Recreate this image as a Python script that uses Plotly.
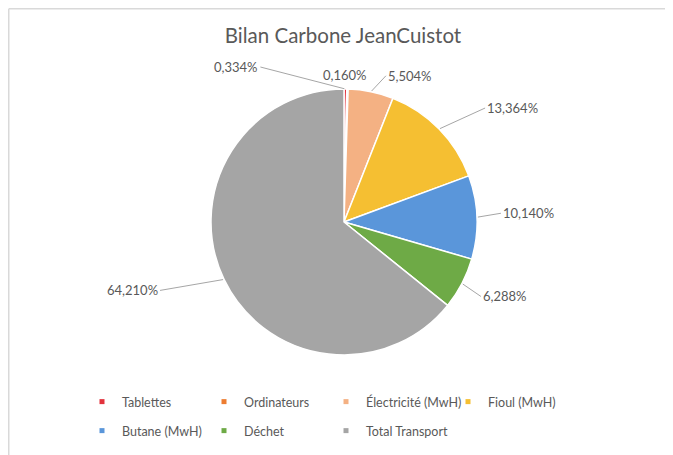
import math
import plotly.graph_objects as go

# ---------------- data ----------------
categories = ["Tablettes", "Ordinateurs", "Électricité (MwH)", "Fioul (MwH)",
              "Butane (MwH)", "Déchet", "Total Transport"]
shares = [0.334, 0.160, 5.504, 13.364, 10.140, 6.288, 64.210]
title_text = "Bilan Carbone JeanCuistot"

# ---------------- style ----------------
colors = ["#E2323C", "#ED7D31", "#F4B183", "#F5BF32", "#5A96DA", "#6EAA46", "#A5A5A5"]
text_color = "#595959"
line_color = "#A6A6A6"
font_family = "Lato, 'Open Sans', sans-serif"

W, H = 673, 455
OFF = 8                               # default page (body) margin of the HTML page
ML, MR, MT, MB = 70, 70, 0, 0
PW, PH = W - ML - MR, H - MT - MB
CX, CY, R = 344, 222, 133             # pie centre / radius (window pixels)

# label offsets (pixels, from the slice edge point) and anchor side; None = no leader line
label_offsets = [(-85, -22, "right"), (-2, -14, None), (15, -16, "left"),
                 (46, -21, "left"), (24, -4, "left"), (19, 13, "left"), (-64, 11, "right")]


def px_to_paper(wx, wy):
    """window pixel -> paper coordinates"""
    fx, fy = wx - OFF, wy - OFF
    return (fx - ML) / PW, (H - MB - fy) / PH


# pie domain so that the pie gets centre (CX, CY) and radius R
x0, y0 = px_to_paper(CX - R, CY + R)
x1, y1 = px_to_paper(CX + R, CY - R)

fig = go.Figure()
fig.add_trace(go.Pie(
    labels=categories, values=shares, sort=False, direction="clockwise", rotation=0,
    marker=dict(colors=colors, line=dict(color="white", width=1.5)),
    textinfo="none", hoverinfo="label+percent", showlegend=False,
    domain=dict(x=[x0, x1], y=[y0, y1]),
))

# legend entries (small square markers like the original)
for i, (name, col) in enumerate(zip(categories, colors)):
    fig.add_trace(go.Scatter(
        x=[None], y=[None], mode="markers", name=name,
        marker=dict(symbol="square", size=5, color=col),
        legend="legend" if i < 4 else "legend2", hoverinfo="skip",
    ))

# percentage labels with leader lines
label_font = dict(size=13, color=text_color, family=font_family)
total = sum(shares)
annotations = []
cum = 0.0
for v, (dx, dy, side) in zip(shares, label_offsets):
    mid = (cum + v / 2) / total * 2 * math.pi
    cum += v
    hx = CX + R * math.sin(mid)
    hy = CY - R * math.cos(mid)
    ax_, ay_ = px_to_paper(hx, hy)
    txt = f"{v / total * 100:.3f}".replace(".", ",") + "%"
    if side is None:
        annotations.append(dict(x=ax_, y=ay_, xref="paper", yref="paper", text=txt,
                                showarrow=False, xshift=dx, yshift=-dy,
                                xanchor="center", yanchor="middle", font=label_font))
    else:
        annotations.append(dict(x=ax_, y=ay_, xref="paper", yref="paper", text=txt,
                                showarrow=True, arrowhead=0, arrowwidth=1,
                                arrowcolor=line_color, ax=dx, ay=dy, standoff=1,
                                xanchor=side, yanchor="middle", font=label_font))

# chart frame (top and left edges visible in the original screenshot)
fx0, fy0 = px_to_paper(OFF + 0.75, OFF + 0.75)
fx1, _ = px_to_paper(W + OFF, OFF)
_, fyb = px_to_paper(OFF, H + OFF)
shapes = [
    dict(type="line", xref="paper", yref="paper", x0=fx0, y0=fy0, x1=fx1, y1=fy0,
         line=dict(color="#D9D9D9", width=1.5)),
    dict(type="line", xref="paper", yref="paper", x0=fx0, y0=fy0, x1=fx0, y1=fyb,
         line=dict(color="#D9D9D9", width=1.5)),
]

lx, ly1 = px_to_paper(82, 402)
_, ly2 = px_to_paper(82, 431)
legend_common = dict(orientation="h", xanchor="left", yanchor="middle",
                     entrywidth=77, entrywidthmode="pixels", itemwidth=30,
                     font=dict(size=12.5, color=text_color, family=font_family),
                     bgcolor="rgba(0,0,0,0)", itemclick=False, itemdoubleclick=False)

fig.update_layout(
    width=W, height=H,
    margin=dict(l=ML, r=MR, t=MT, b=MB),
    paper_bgcolor="white", plot_bgcolor="white",
    title=dict(text=title_text, x=(343 - OFF) / W, y=1 - (36 - OFF) / H,
               xanchor="center", yanchor="middle", xref="container", yref="container",
               font=dict(size=20.5, color=text_color, family=font_family)),
    xaxis=dict(visible=False), yaxis=dict(visible=False),
    legend=dict(x=lx, y=ly1, **legend_common),
    legend2=dict(x=lx, y=ly2, **legend_common),
    annotations=annotations, shapes=shapes,
    font=dict(family=font_family, color=text_color),
)

fig.write_html("out.html")
